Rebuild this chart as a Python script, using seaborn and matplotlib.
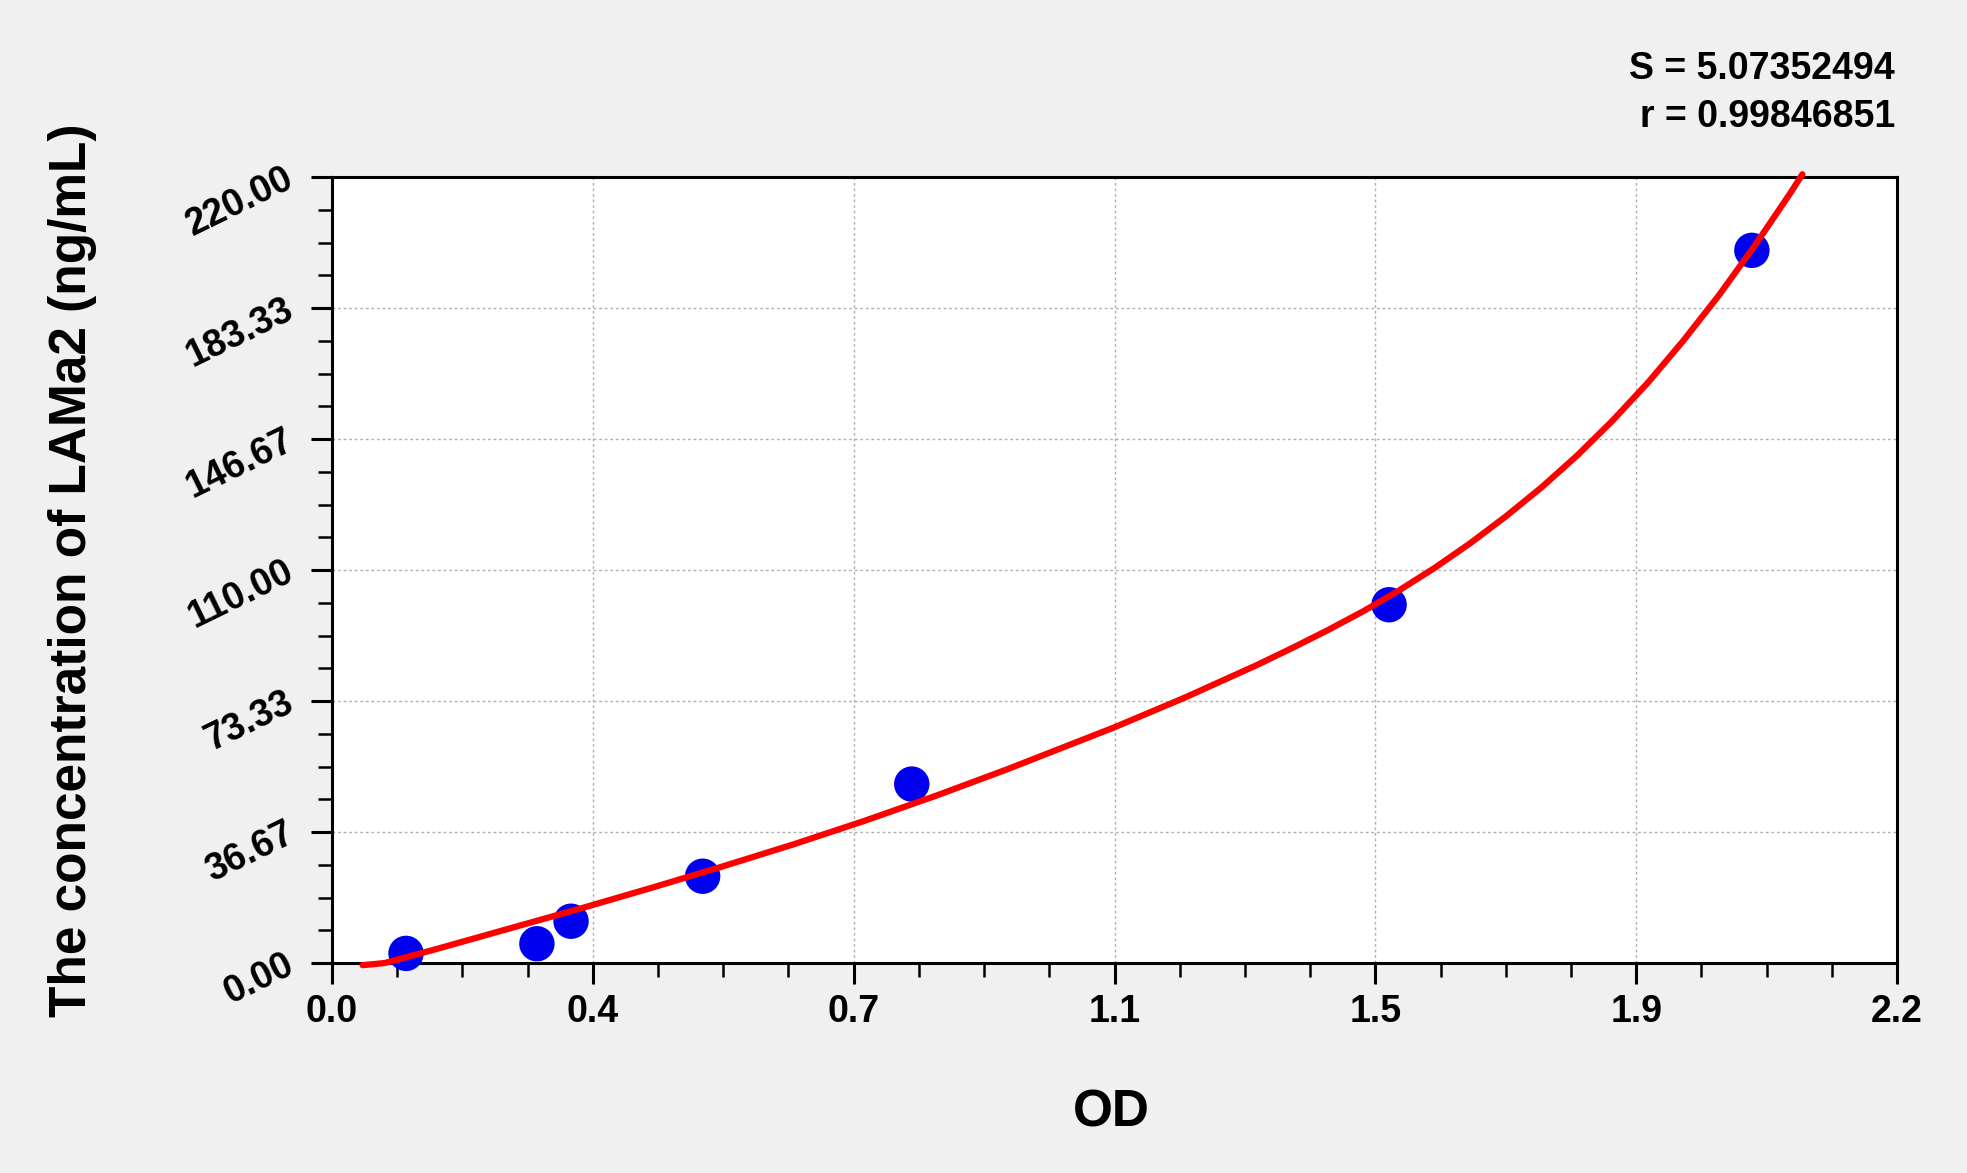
import numpy as np
import pandas as pd
import seaborn as sns
import matplotlib.pyplot as plt
from matplotlib.ticker import AutoMinorLocator, FixedLocator, FixedFormatter

# --- dane: punkty standardowe (OD vs stezenie) ---
od_values = [0.104, 0.288, 0.336, 0.521, 0.815, 1.486, 1.996]
conc_values = [2.7, 5.4, 11.7, 24.3, 50.1, 100.3, 199.5]

# --- krzywa dopasowania ---
curve_od = [0.043, 0.074, 0.10, 0.15, 0.20, 0.25, 0.30, 0.35, 0.40, 0.45,
            0.50, 0.55, 0.60, 0.65, 0.70, 0.75, 0.80, 0.85, 0.90, 0.95,
            1.00, 1.05, 1.10, 1.15, 1.20, 1.25, 1.30, 1.35, 1.40, 1.45,
            1.50, 1.55, 1.60, 1.65, 1.70, 1.75, 1.80, 1.85, 1.90, 1.95,
            2.00, 2.05, 2.067]
curve_conc = [-0.6, 0.0, 1.4, 4.1, 6.9, 9.7, 12.5, 15.3, 18.2, 21.1,
              24.1, 27.1, 30.2, 33.3, 36.6, 39.9, 43.4, 46.9, 50.6, 54.3,
              58.2, 62.1, 66.0, 70.2, 74.4, 78.9, 83.4, 88.2, 93.2, 98.5,
              104.3, 110.6, 117.5, 125.0, 133.1, 142.0, 151.8, 162.5, 174.3, 187.0,
              200.8, 215.5, 220.8]

x_tick_labels = ['0.0', '0.4', '0.7', '1.1', '1.5', '1.9', '2.2']
y_tick_labels = ['0.00', '36.67', '73.33', '110.00', '146.67', '183.33', '220.00']
fit_s = 'S = 5.07352494'
fit_r = 'r = 0.99846851'

points = pd.DataFrame({'OD': od_values, 'conc': conc_values})
curve = pd.DataFrame({'OD': curve_od, 'conc': curve_conc})

sns.set_style('white')
plt.rcParams['font.family'] = ['Liberation Sans', 'DejaVu Sans']
plt.rcParams['font.weight'] = 'bold'
plt.rcParams['text.color'] = 'black'
plt.rcParams['axes.labelcolor'] = 'black'
plt.rcParams['xtick.color'] = 'black'
plt.rcParams['ytick.color'] = 'black'

fig = plt.figure(figsize=(19.67, 11.73), dpi=100, facecolor='#f0f0f0')
ax = fig.add_axes([0.1688, 0.179, 0.7956, 0.670])
ax.set_facecolor('white')

x_max, y_max = 2.2, 220.0
x_ticks = np.linspace(0, x_max, len(x_tick_labels))
y_ticks = np.linspace(0, y_max, len(y_tick_labels))

# siatka
for xv in x_ticks[1:-1]:
    ax.axvline(xv, color='#b0b0b0', lw=1.0, ls=(0, (2, 2)), zorder=0)
for yv in y_ticks[1:-1]:
    ax.axhline(yv, color='#b0b0b0', lw=1.0, ls=(0, (2, 2)), zorder=0)

sns.scatterplot(data=points, x='OD', y='conc', ax=ax, color='#0000f0',
                s=650, edgecolor='none', zorder=3, clip_on=False)
sns.lineplot(data=curve, x='OD', y='conc', ax=ax, color='#ff0000', lw=4.5,
             sort=False, estimator=None, zorder=4, clip_on=False)

ax.set_xlim(0, x_max)
ax.set_ylim(0, y_max)

ax.xaxis.set_major_locator(FixedLocator(x_ticks))
ax.xaxis.set_major_formatter(FixedFormatter(x_tick_labels))
ax.yaxis.set_major_locator(FixedLocator(y_ticks))
ax.yaxis.set_major_formatter(FixedFormatter(y_tick_labels))
ax.xaxis.set_minor_locator(AutoMinorLocator(4))
ax.yaxis.set_minor_locator(AutoMinorLocator(4))

ax.tick_params(axis='both', which='major', direction='out', length=15, width=2.2,
               labelsize=27, labelcolor='black', color='black', bottom=True, left=True)
ax.tick_params(axis='both', which='minor', direction='out', length=10, width=1.8,
               color='black', bottom=True, left=True)
ax.tick_params(axis='x', which='major', pad=7)
ax.tick_params(axis='y', which='major', pad=14)

for lab in ax.get_xticklabels():
    lab.set_fontweight('bold')
for lab in ax.get_yticklabels():
    lab.set_fontweight('bold')
    lab.set_rotation(26)
    lab.set_rotation_mode('anchor')
    lab.set_ha('right')
    lab.set_va('center')

for sp in ax.spines.values():
    sp.set_visible(True)
    sp.set_color('black')
    sp.set_linewidth(2.2)

ax.set_xlabel('OD', fontsize=37, fontweight='bold', color='black')
ax.set_ylabel('The concentration of LAMa2 (ng/mL)', fontsize=37,
              fontweight='bold', color='black')
ax.xaxis.label.set_va('center')
ax.yaxis.label.set_va('center')
ax.xaxis.set_label_coords(0.498, -0.191)
ax.yaxis.set_label_coords(-0.166, 0.5)

fig.text(0.9634, 0.9415, fit_s, ha='right', va='center', fontsize=27,
         fontweight='bold', color='black')
fig.text(0.9634, 0.9005, fit_r, ha='right', va='center', fontsize=27,
         fontweight='bold', color='black')

fig.savefig('out.png', dpi=100, facecolor=fig.get_facecolor())
